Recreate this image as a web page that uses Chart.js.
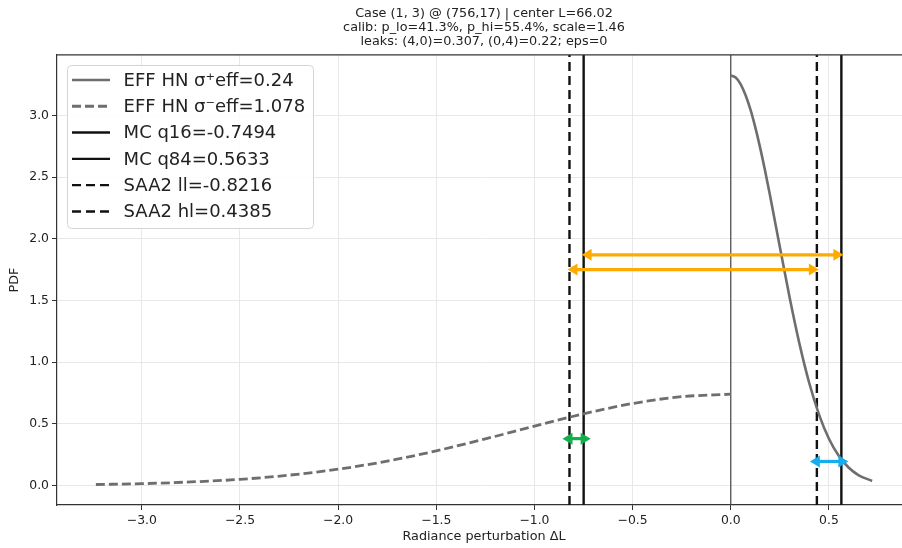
<!DOCTYPE html>
<html>
<head>
<meta charset="utf-8">
<script src="https://cdn.jsdelivr.net/npm/chart.js@4.4.0/dist/chart.umd.min.js"></script>
<style>
  html, body { margin: 0; padding: 0; background: #fff; overflow: hidden; }
  #wrap { width: 920px; height: 548px; }
</style>
</head>
<body>
<div id="wrap"><canvas id="pdf"></canvas></div>
<script>
// upper half-normal branch (sigma+ = 0.24)
const hnPosX = [0, 0.025, 0.05, 0.075, 0.10, 0.125, 0.15, 0.175, 0.20, 0.25, 0.30, 0.35, 0.40, 0.45, 0.50, 0.55, 0.60, 0.65, 0.72];
const hnPosY = [3.325, 3.307, 3.254, 3.166, 3.049, 2.903, 2.735, 2.549, 2.350, 1.933, 1.522, 1.148, 0.829, 0.573, 0.379, 0.241, 0.146, 0.085, 0.037];

// lower half-normal branch (sigma- = 1.078)
const hnNegX = [-3.234, -3.0, -2.75, -2.5, -2.25, -2.0, -1.75, -1.5, -1.25, -1.0, -0.75, -0.5, -0.25, 0];
const hnNegY = [0.008, 0.015, 0.029, 0.050, 0.084, 0.132, 0.198, 0.281, 0.378, 0.481, 0.581, 0.665, 0.720, 0.740];

// quantile markers
const mcQ16 = -0.7494;
const mcQ84 = 0.5633;
const saaLL = -0.8216;
const saaHL = 0.4385;

// double arrows: from, to, height
const arrowFrom = [mcQ16, saaLL, saaLL, saaHL];
const arrowTo   = [mcQ84, saaHL, mcQ16, mcQ84];
const arrowAt   = [1.87, 1.75, 0.38, 0.195];

const xTicks = [-3.0, -2.5, -2.0, -1.5, -1.0, -0.5, 0.0, 0.5];
const yTicks = [0.0, 0.5, 1.0, 1.5, 2.0, 2.5, 3.0];
const xRange = [-3.432, 0.918];
const yRange = [-0.158, 3.49];

const titleLines = [
  'Case (1, 3) @ (756,17) | center L=66.02',
  'calib: p_lo=41.3%, p_hi=55.4%, scale=1.46',
  'leaks: (4,0)=0.307, (0,4)=0.22; eps=0'
];

const FONT = 'DejaVu Sans';
const fmt = v => v.toFixed(1).replace('-', '\u2212');
const pts = (xs, ys) => xs.map((x, i) => ({ x, y: ys[i] }));
const vline = x => [{ x, y: yRange[0] }, { x, y: yRange[1] }];

const arrows = {
  id: 'arrows',
  afterDatasetsDraw(chart) {
    const { ctx, scales: { x, y } } = chart;
    const colors = ['#ffaa00', '#ffaa00', '#12b04c', '#16adef'];
    const head = 10, half = 6;
    ctx.save();
    arrowFrom.forEach((a, i) => {
      let p0 = x.getPixelForValue(a);
      let p1 = x.getPixelForValue(arrowTo[i]);
      const py = y.getPixelForValue(arrowAt[i]);
      const pad = (p1 - p0) < 60 ? 7 : 2;
      p0 -= pad; p1 += pad;
      ctx.strokeStyle = ctx.fillStyle = colors[i];
      ctx.lineWidth = 3.2;
      ctx.beginPath();
      ctx.moveTo(p0 + head - 1, py);
      ctx.lineTo(p1 - head + 1, py);
      ctx.stroke();
      ctx.beginPath();
      ctx.moveTo(p0, py);
      ctx.lineTo(p0 + head, py - half);
      ctx.lineTo(p0 + head, py + half);
      ctx.closePath();
      ctx.fill();
      ctx.beginPath();
      ctx.moveTo(p1, py);
      ctx.lineTo(p1 - head, py - half);
      ctx.lineTo(p1 - head, py + half);
      ctx.closePath();
      ctx.fill();
    });
    ctx.restore();
  }
};

const legendBox = {
  id: 'legendBox',
  afterDatasetsDraw(chart) {
    const { ctx, chartArea } = chart;
    const items = chart.data.datasets.filter(d => d.label);
    const bx = chartArea.left + 10, by = chartArea.top + 10;
    const rowH = 26.3, w = 246, h = 15 + (items.length - 1) * rowH + 16.5;
    ctx.save();
    ctx.fillStyle = 'rgba(255,255,255,0.85)';
    ctx.strokeStyle = '#d4d4d4';
    ctx.lineWidth = 1;
    ctx.beginPath();
    ctx.roundRect(bx + 0.5, by + 0.5, w, h, 4);
    ctx.fill();
    ctx.stroke();
    ctx.font = '18px "' + FONT + '"';
    ctx.textBaseline = 'middle';
    items.forEach((d, i) => {
      const cy = by + 15 + i * rowH;
      ctx.strokeStyle = d.borderColor;
      ctx.lineWidth = d.borderWidth;
      ctx.setLineDash(d.borderDash || []);
      ctx.beginPath();
      ctx.moveTo(bx + 5, cy);
      ctx.lineTo(bx + 43, cy);
      ctx.stroke();
      ctx.setLineDash([]);
      ctx.fillStyle = '#222';
      ctx.fillText(d.label, bx + 56.6, cy + 1);
    });
    ctx.restore();
  }
};

// top spine (the x/y borders cover bottom and left)
const frame = {
  id: 'frame',
  afterDraw(chart) {
    const { ctx, chartArea: a } = chart;
    ctx.save();
    ctx.strokeStyle = '#333';
    ctx.lineWidth = 1.2;
    ctx.beginPath();
    ctx.moveTo(a.left, a.top);
    ctx.lineTo(a.right, a.top);
    ctx.stroke();
    ctx.restore();
  }
};

const gray = '#6e6e6e';

new Chart(document.getElementById('pdf'), {
  type: 'line',
  data: {
    datasets: [
      { label: 'EFF HN \u03c3\u207aeff=0.24', data: pts(hnPosX, hnPosY),
        borderColor: gray, borderWidth: 2.6, cubicInterpolationMode: 'monotone' },
      { label: 'EFF HN \u03c3\u207beff=1.078', data: pts(hnNegX, hnNegY),
        borderColor: gray, borderWidth: 2.8, borderDash: [9, 4], cubicInterpolationMode: 'monotone' },
      { label: 'MC q16=-0.7494', data: vline(mcQ16), borderColor: '#111', borderWidth: 2.4 },
      { label: 'MC q84=0.5633', data: vline(mcQ84), borderColor: '#111', borderWidth: 2.4 },
      { label: 'SAA2 ll=-0.8216', data: vline(saaLL), borderColor: '#111', borderWidth: 2.4, borderDash: [9, 5] },
      { label: 'SAA2 hl=0.4385', data: vline(saaHL), borderColor: '#111', borderWidth: 2.4, borderDash: [9, 5] },
      { data: vline(0), borderColor: '#444', borderWidth: 1.2 }
    ]
  },
  options: {
    responsive: true,
    maintainAspectRatio: false,
    animation: false,
    events: [],
    layout: { padding: { left: 0, right: 9, top: 0, bottom: 0 } },
    elements: { point: { radius: 0 }, line: { fill: false } },
    plugins: {
      legend: { display: false },
      tooltip: { enabled: false },
      title: {
        display: true,
        fullSize: false,
        text: titleLines,
        color: '#222',
        font: { family: FONT, size: 12.8, weight: 'normal', lineHeight: 1.08 },
        padding: { top: 7, bottom: 6.5 }
      }
    },
    scales: {
      x: {
        type: 'linear',
        min: xRange[0],
        max: xRange[1],
        afterBuildTicks: s => { s.ticks = xTicks.map(v => ({ value: v })); },
        afterFit: s => { s.height = 43; },
        ticks: { callback: fmt, color: '#222', padding: 3, maxRotation: 0,
                 font: { family: FONT, size: 12.4 } },
        grid: { color: '#e8e8e8', tickColor: '#333', tickLength: 5 },
        border: { color: '#333', width: 1.2 },
        title: { display: true, text: 'Radiance perturbation \u0394L', color: '#222',
                 font: { family: FONT, size: 12.8 }, padding: { top: 0, bottom: 3.3 } }
      },
      y: {
        type: 'linear',
        min: yRange[0],
        max: yRange[1],
        afterBuildTicks: s => { s.ticks = yTicks.map(v => ({ value: v })); },
        afterFit: s => { s.width = 57; },
        ticks: { callback: fmt, color: '#222', padding: 3,
                 font: { family: FONT, size: 12.4 } },
        grid: { color: '#e8e8e8', tickColor: '#333', tickLength: 5 },
        border: { color: '#333', width: 1.2 },
        title: { display: true, text: 'PDF', color: '#222',
                 font: { family: FONT, size: 12.8 }, padding: { top: 7.3, bottom: 0 } }
      }
    }
  },
  plugins: [legendBox, arrows, frame]
});
</script>
</body>
</html>
